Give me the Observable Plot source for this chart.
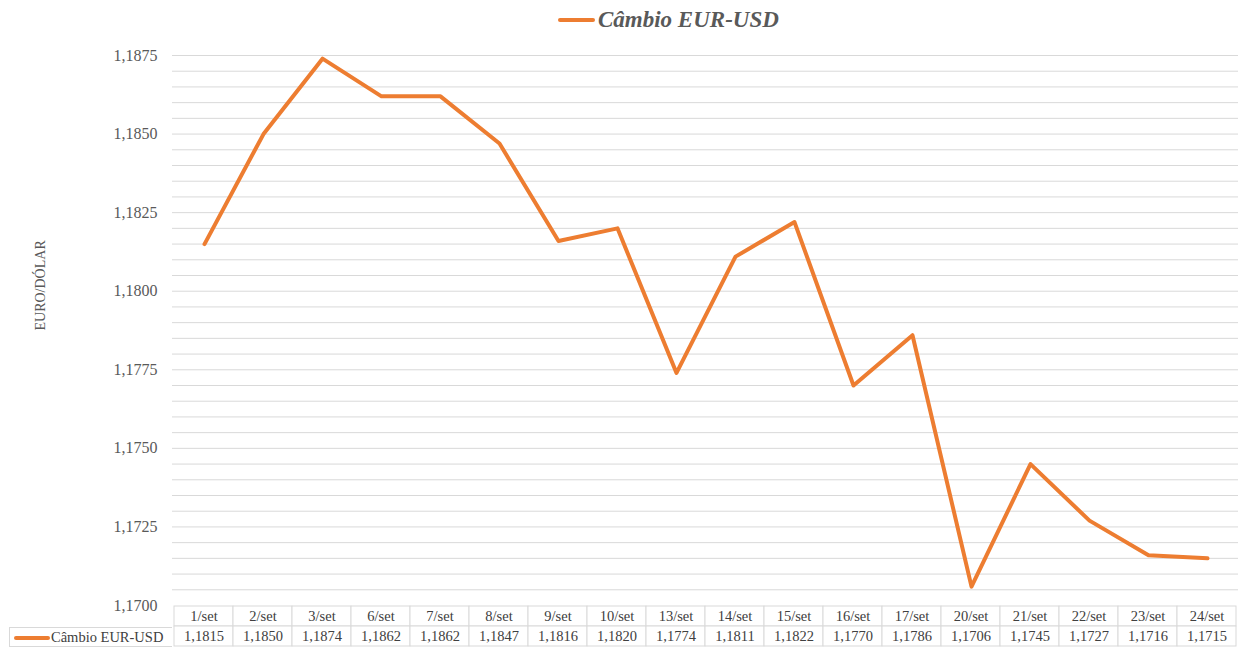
<!DOCTYPE html>
<html>
<head>
<meta charset="utf-8">
<script src="https://cdn.jsdelivr.net/npm/d3@7"></script>
<script src="https://cdn.jsdelivr.net/npm/@observablehq/plot@0.6"></script>
<style>
  html, body { margin: 0; padding: 0; background: #fff; }
  #wrap { position: relative; width: 1238px; height: 647px; overflow: hidden; font-family: "Liberation Serif", serif; }
  #title { position: absolute; left: 558px; top: 7px; font-size: 23px; font-weight: bold; font-style: italic; color: #595959; white-space: nowrap; }
  #title .key { display: inline-block; width: 37px; height: 4px; background: #ED7D31; vertical-align: middle; margin-right: 3px; position: relative; top: -2px; border-radius: 2px; }
  #rowlabel { position: absolute; left: 9px; top: 627px; width: 163px; height: 20px; border: 1px solid #d9d9d9; border-right: none; box-sizing: border-box; font-size: 14.5px; color: #404040; white-space: nowrap; line-height: 18px; background: #fff; }
  #rowlabel .key { display: inline-block; width: 36px; height: 4px; background: #ED7D31; vertical-align: middle; margin: 0 1px 0 4px; border-radius: 2px; position: relative; top: -1px; }
  #main, #table { position: absolute; left: 0; }
  #main { top: 0; }
  #table { top: 605px; }
  #main svg { overflow: visible; }
</style>
</head>
<body>
<div id="wrap">
  <div id="table"></div>
  <div id="main"></div>
  <div id="title"><span class="key"></span>Câmbio EUR-USD</div>
  <div id="rowlabel"><span class="key"></span>Câmbio EUR-USD</div>
</div>
<script>
const seriesName = "Câmbio EUR-USD";
const dates = ["1/set","2/set","3/set","6/set","7/set","8/set","9/set","10/set","13/set","14/set","15/set","16/set","17/set","20/set","21/set","22/set","23/set","24/set"];
const rates = [1.1815,1.1850,1.1874,1.1862,1.1862,1.1847,1.1816,1.1820,1.1774,1.1811,1.1822,1.1770,1.1786,1.1706,1.1745,1.1727,1.1716,1.1715];
const yTicks = [1.1700,1.1725,1.1750,1.1775,1.1800,1.1825,1.1850,1.1875];
const yLabel = "EURO/DÓLAR";

const data = dates.map((d, i) => ({date: d, rate: rates[i]}));
const fmt = v => v.toFixed(4).replace(".", ",");
const minor = d3.range(0, 36).map(i => +(yTicks[0] + i * 0.0005).toFixed(4));

const main = Plot.plot({
  width: 1238,
  height: 605,
  marginTop: 55,
  marginBottom: 0,
  marginLeft: 172,
  marginRight: 0,
  style: {fontFamily: "Liberation Serif, serif", color: "#595959", background: "transparent", overflow: "visible"},
  x: {type: "point", domain: dates, padding: 0.5, axis: null},
  y: {domain: [yTicks[0], yTicks[yTicks.length - 1]]},
  marks: [
    Plot.ruleY(minor.slice(1), {stroke: "#d9d9d9", strokeWidth: 1}),
    Plot.axisY({ticks: yTicks, tickFormat: fmt, tickSize: 0, tickPadding: 15, fontSize: 16, label: null, fill: "#595959"}),
    Plot.text([yLabel], {frameAnchor: "left", dx: -132, rotate: -90, fontSize: 14, fill: "#595959", text: d => d}),
    Plot.line(data, {x: "date", y: "rate", stroke: "#ED7D31", strokeWidth: 4, strokeLinejoin: "round", strokeLinecap: "round"})
  ]
});
document.getElementById("main").appendChild(main);

const rows = ["header", "value"];
const cells = dates.flatMap((d, i) => [
  {date: d, row: "header", label: d},
  {date: d, row: "value", label: fmt(rates[i])}
]);

const table = Plot.plot({
  width: 1238,
  height: 42,
  margin: 0,
  marginLeft: 172,
  style: {fontFamily: "Liberation Serif, serif", background: "transparent", overflow: "visible"},
  x: {type: "band", domain: dates, padding: 0, axis: null},
  y: {type: "band", domain: rows, padding: 0, axis: null, range: [0.5, 42]},
  marks: [
    Plot.cell(cells, {x: "date", y: "row", fill: "#fff", stroke: "#d9d9d9", strokeWidth: 1}),
    Plot.text(cells, {x: "date", y: "row", text: "label", fontSize: 14.5, fill: "#404040"})
  ]
});
document.getElementById("table").appendChild(table);
</script>
</body>
</html>
